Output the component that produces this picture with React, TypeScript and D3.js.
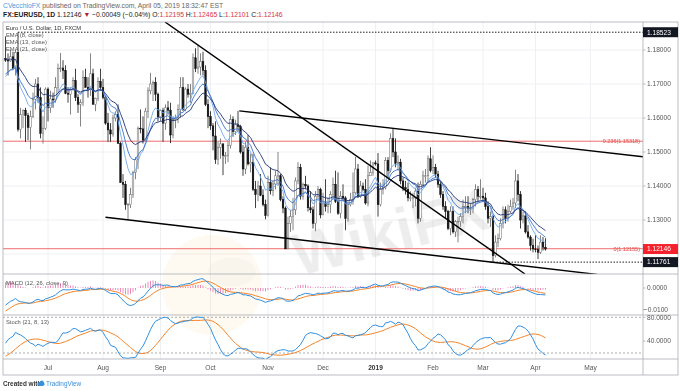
import React from "react";
import * as d3 from "d3";

// Hidden warm-up bars (Apr 9 – Jun 6 2018). They sit left of the visible window
// and only feed the EMA / MACD / Stoch calculations.
const warmHighs = [
  1.2345, 1.2375, 1.2395, 1.2375, 1.2365,
  1.2395, 1.2395, 1.2395, 1.2415, 1.2355,
  1.2285, 1.2255, 1.2240, 1.2200, 1.2145,
  1.2140, 1.2085, 1.2020, 1.2010, 1.2010,
  1.1985, 1.1935, 1.1895, 1.1925, 1.1995,
  1.1995, 1.1935, 1.1845, 1.1830, 1.1810,
  1.1815, 1.1830, 1.1790, 1.1745, 1.1730,
  1.1665, 1.1625, 1.1675, 1.1715, 1.1720,
  1.1745, 1.1725, 1.1800,
];
const warmLows = [
  1.2270, 1.2305, 1.2345, 1.2300, 1.2305,
  1.2320, 1.2355, 1.2355, 1.2335, 1.2265,
  1.2185, 1.2185, 1.2160, 1.2090, 1.2055,
  1.2070, 1.1985, 1.1935, 1.1945, 1.1910,
  1.1910, 1.1840, 1.1820, 1.1840, 1.1915,
  1.1920, 1.1820, 1.1765, 1.1785, 1.1750,
  1.1715, 1.1760, 1.1675, 1.1690, 1.1645,
  1.1605, 1.1510, 1.1535, 1.1655, 1.1620,
  1.1645, 1.1675, 1.1700,
];
const warmCloses = [
  1.2320, 1.2355, 1.2370, 1.2325, 1.2330,
  1.2380, 1.2375, 1.2375, 1.2345, 1.2290,
  1.2210, 1.2235, 1.2165, 1.2100, 1.2130,
  1.2080, 1.1990, 1.1950, 1.1990, 1.1960,
  1.1925, 1.1865, 1.1850, 1.1915, 1.1940,
  1.1925, 1.1835, 1.1805, 1.1795, 1.1770,
  1.1790, 1.1780, 1.1695, 1.1720, 1.1655,
  1.1620, 1.1540, 1.1665, 1.1690, 1.1660,
  1.1695, 1.1720, 1.1775,
];

// EUR/USD daily bars, Jun 7 2018 – Apr 5 2019 (one row per week)
const opens = [
  1.1775, 1.1770,
  1.1768, 1.1780, 1.1745, 1.1793, 1.1567,
  1.1610, 1.1623, 1.1607, 1.1572, 1.1605,
  1.1655, 1.1700, 1.1660, 1.1555, 1.1570,
  1.1685, 1.1630, 1.1656, 1.1653, 1.1689,
  1.1745, 1.1747, 1.1740, 1.1673, 1.1670,
  1.1685, 1.1710, 1.1660, 1.1640, 1.1645,
  1.1720, 1.1690, 1.1683, 1.1730, 1.1640,
  1.1658, 1.1707, 1.1690, 1.1660, 1.1585,
  1.1565, 1.1553, 1.1600, 1.1610, 1.1525,
  1.1410, 1.1405, 1.1345, 1.1345, 1.1375,
  1.1440, 1.1477, 1.1570, 1.1568, 1.1535,
  1.1620, 1.1680, 1.1700, 1.1705, 1.1670,
  1.1603, 1.1622, 1.1585, 1.1630, 1.1623,
  1.1550, 1.1595, 1.1600, 1.1625, 1.1690,
  1.1625, 1.1685, 1.1670, 1.1672, 1.1777,
  1.1745, 1.1750, 1.1766, 1.1740, 1.1640,
  1.1604, 1.1577, 1.1547, 1.1478, 1.1514,
  1.1524, 1.1490, 1.1490, 1.1520, 1.1595,
  1.1560, 1.1580, 1.1575, 1.1500, 1.1450,
  1.1514, 1.1465, 1.1470, 1.1390, 1.1375,
  1.1400, 1.1373, 1.1345, 1.1313, 1.1410,
  1.1386, 1.1406, 1.1430, 1.1430, 1.1360,
  1.1335, 1.1215, 1.1290, 1.1310, 1.1330,
  1.1415, 1.1455, 1.1370, 1.1405, 1.1400,
  1.1336, 1.1330, 1.1290, 1.1370, 1.1390,
  1.1315, 1.1350, 1.1340, 1.1345, 1.1375,
  1.1405, 1.1355, 1.1320, 1.1370, 1.1365,
  1.1305, 1.1345, 1.1360, 1.1380, 1.1450,
  1.1370, 1.1400, 1.1390, 1.1350, 1.1430,
  1.1440, 1.1468, 1.1465, 1.1345, 1.1390,
  1.1395, 1.1475, 1.1445, 1.1540, 1.1500,
  1.1467, 1.1470, 1.1415, 1.1395, 1.1390,
  1.1365, 1.1365, 1.1365, 1.1385, 1.1305,
  1.1405, 1.1430, 1.1430, 1.1480, 1.1445,
  1.1455, 1.1435, 1.1405, 1.1375, 1.1340,
  1.1325, 1.1275, 1.1325, 1.1265, 1.1295,
  1.1295, 1.1310, 1.1340, 1.1340, 1.1335,
  1.1335, 1.1360, 1.1390, 1.1370, 1.1370,
  1.1365, 1.1340, 1.1305, 1.1310, 1.1195,
  1.1235, 1.1245, 1.1290, 1.1330, 1.1305,
  1.1325, 1.1340, 1.1350, 1.1415, 1.1375,
  1.1300, 1.1312, 1.1265, 1.1250, 1.1225,
  1.1215, 1.1213, 1.1205, 1.1235, 1.12195,
];
const highs = [
  1.1840, 1.1790,
  1.1800, 1.1795, 1.1800, 1.1852, 1.1630,
  1.1625, 1.1630, 1.1615, 1.1622, 1.1675,
  1.1715, 1.1720, 1.1690, 1.1605, 1.1690,
  1.1690, 1.1680, 1.1675, 1.1720, 1.1760,
  1.1791, 1.1770, 1.1755, 1.1690, 1.1690,
  1.1720, 1.1745, 1.1670, 1.1655, 1.1740,
  1.1745, 1.1720, 1.1790, 1.1745, 1.1660,
  1.1720, 1.1745, 1.1715, 1.1665, 1.1615,
  1.1585, 1.1610, 1.1620, 1.1640, 1.1530,
  1.1435, 1.1415, 1.1350, 1.1395, 1.1445,
  1.1485, 1.1575, 1.1625, 1.1605, 1.1630,
  1.1690, 1.1733, 1.1710, 1.1720, 1.1675,
  1.1625, 1.1630, 1.1640, 1.1650, 1.1645,
  1.1605, 1.1610, 1.1640, 1.1720, 1.1720,
  1.1690, 1.1700, 1.1700, 1.1790, 1.1805,
  1.1815, 1.1790, 1.1795, 1.1755, 1.1655,
  1.1620, 1.1585, 1.1590, 1.1530, 1.1540,
  1.1525, 1.1500, 1.1530, 1.1610, 1.1605,
  1.1595, 1.1621, 1.1580, 1.1520, 1.1530,
  1.1550, 1.1495, 1.1495, 1.1415, 1.1415,
  1.1435, 1.1390, 1.1360, 1.1430, 1.1455,
  1.1415, 1.1445, 1.1500, 1.1435, 1.1370,
  1.1340, 1.1310, 1.1330, 1.1365, 1.1425,
  1.1470, 1.1465, 1.1410, 1.1430, 1.1405,
  1.1385, 1.1340, 1.1385, 1.1400, 1.1395,
  1.1380, 1.1420, 1.1365, 1.1385, 1.1425,
  1.1445, 1.1440, 1.1385, 1.1405, 1.1370,
  1.1355, 1.1380, 1.1440, 1.1486, 1.1465,
  1.1415, 1.1410, 1.1420, 1.1460, 1.1475,
  1.1470, 1.1475, 1.1497, 1.1410, 1.1420,
  1.1485, 1.1485, 1.1555, 1.1570, 1.1540,
  1.1490, 1.1480, 1.1425, 1.1415, 1.1410,
  1.1385, 1.1380, 1.1395, 1.1410, 1.1415,
  1.1445, 1.1450, 1.1490, 1.1514, 1.1490,
  1.1465, 1.1445, 1.1415, 1.1385, 1.1355,
  1.1330, 1.1340, 1.1340, 1.1300, 1.1310,
  1.1320, 1.1360, 1.1370, 1.1370, 1.1350,
  1.1365, 1.1405, 1.1400, 1.1420, 1.1395,
  1.1380, 1.1355, 1.1325, 1.1315, 1.1255,
  1.1260, 1.1305, 1.1340, 1.1340, 1.1345,
  1.1360, 1.1365, 1.1448, 1.1435, 1.1385,
  1.1325, 1.1325, 1.1285, 1.1255, 1.1245,
  1.1255, 1.1225, 1.1255, 1.1250, 1.12465,
];
const lows = [
  1.1765, 1.1725,
  1.1765, 1.1745, 1.1725, 1.1560, 1.1540,
  1.1570, 1.1530, 1.1535, 1.1508, 1.1600,
  1.1625, 1.1645, 1.1540, 1.1525, 1.1565,
  1.1590, 1.1615, 1.1630, 1.1645, 1.1675,
  1.1735, 1.1715, 1.1670, 1.1645, 1.1610,
  1.1680, 1.1650, 1.1615, 1.1575, 1.1635,
  1.1690, 1.1660, 1.1665, 1.1640, 1.1620,
  1.1650, 1.1680, 1.1655, 1.1580, 1.1530,
  1.1530, 1.1545, 1.1590, 1.1525, 1.1410,
  1.1365, 1.1330, 1.1301, 1.1335, 1.1365,
  1.1420, 1.1450, 1.1555, 1.1525, 1.1530,
  1.1600, 1.1670, 1.1650, 1.1650, 1.1590,
  1.1590, 1.1530, 1.1565, 1.1610, 1.1526,
  1.1540, 1.1570, 1.1585, 1.1600, 1.1620,
  1.1620, 1.1660, 1.1645, 1.1670, 1.1735,
  1.1730, 1.1725, 1.1725, 1.1635, 1.1570,
  1.1565, 1.1505, 1.1465, 1.1462, 1.1480,
  1.1432, 1.1465, 1.1470, 1.1510, 1.1545,
  1.1550, 1.1560, 1.1495, 1.1430, 1.1435,
  1.1460, 1.1440, 1.1385, 1.1335, 1.1355,
  1.1370, 1.1340, 1.1302, 1.1310, 1.1375,
  1.1370, 1.1390, 1.1400, 1.1355, 1.1320,
  1.1215, 1.1215, 1.1265, 1.1270, 1.1315,
  1.1405, 1.1360, 1.1360, 1.1390, 1.1325,
  1.1320, 1.1275, 1.1267, 1.1365, 1.1305,
  1.1315, 1.1325, 1.1320, 1.1320, 1.1365,
  1.1350, 1.1315, 1.1305, 1.1355, 1.1270,
  1.1295, 1.1340, 1.1345, 1.1375, 1.1365,
  1.1365, 1.1385, 1.1345, 1.1340, 1.1430,
  1.1430, 1.1460, 1.1310, 1.1340, 1.1375,
  1.1390, 1.1425, 1.1440, 1.1485, 1.1455,
  1.1445, 1.1405, 1.1385, 1.1375, 1.1355,
  1.1355, 1.1335, 1.1340, 1.1290, 1.1295,
  1.1395, 1.1410, 1.1415, 1.1440, 1.1435,
  1.1425, 1.1395, 1.1365, 1.1330, 1.1305,
  1.1270, 1.1255, 1.1260, 1.1250, 1.1234,
  1.1280, 1.1290, 1.1320, 1.1320, 1.1315,
  1.1320, 1.1340, 1.1355, 1.1360, 1.1355,
  1.1330, 1.1290, 1.1280, 1.1176, 1.1190,
  1.1220, 1.1240, 1.1275, 1.1290, 1.1295,
  1.1320, 1.1330, 1.1335, 1.1355, 1.1275,
  1.1290, 1.1260, 1.1245, 1.1210, 1.1205,
  1.1205, 1.1185, 1.1200, 1.1210, 1.12101,
];
const closes = [
  1.1770, 1.1768,
  1.1780, 1.1745, 1.1793, 1.1567, 1.1610,
  1.1623, 1.1607, 1.1572, 1.1605, 1.1655,
  1.1700, 1.1660, 1.1555, 1.1570, 1.1685,
  1.1630, 1.1656, 1.1653, 1.1689, 1.1745,
  1.1747, 1.1740, 1.1673, 1.1670, 1.1685,
  1.1710, 1.1660, 1.1640, 1.1645, 1.1720,
  1.1690, 1.1683, 1.1730, 1.1640, 1.1658,
  1.1707, 1.1690, 1.1660, 1.1585, 1.1565,
  1.1553, 1.1600, 1.1610, 1.1525, 1.1410,
  1.1405, 1.1345, 1.1345, 1.1375, 1.1440,
  1.1477, 1.1570, 1.1568, 1.1535, 1.1620,
  1.1680, 1.1700, 1.1705, 1.1670, 1.1603,
  1.1622, 1.1585, 1.1630, 1.1623, 1.1550,
  1.1595, 1.1600, 1.1625, 1.1690, 1.1625,
  1.1685, 1.1670, 1.1672, 1.1777, 1.1745,
  1.1750, 1.1766, 1.1740, 1.1640, 1.1604,
  1.1577, 1.1547, 1.1478, 1.1514, 1.1524,
  1.1490, 1.1490, 1.1520, 1.1595, 1.1560,
  1.1580, 1.1575, 1.1500, 1.1450, 1.1514,
  1.1465, 1.1470, 1.1390, 1.1375, 1.1400,
  1.1373, 1.1345, 1.1313, 1.1410, 1.1386,
  1.1406, 1.1430, 1.1430, 1.1360, 1.1335,
  1.1215, 1.1290, 1.1310, 1.1330, 1.1415,
  1.1455, 1.1370, 1.1405, 1.1400, 1.1336,
  1.1330, 1.1290, 1.1370, 1.1390, 1.1315,
  1.1350, 1.1340, 1.1345, 1.1375, 1.1405,
  1.1355, 1.1320, 1.1370, 1.1365, 1.1305,
  1.1345, 1.1360, 1.1380, 1.1450, 1.1370,
  1.1400, 1.1390, 1.1350, 1.1430, 1.1440,
  1.1468, 1.1465, 1.1345, 1.1390, 1.1395,
  1.1475, 1.1445, 1.1540, 1.1500, 1.1467,
  1.1470, 1.1415, 1.1395, 1.1390, 1.1365,
  1.1365, 1.1365, 1.1385, 1.1305, 1.1405,
  1.1430, 1.1430, 1.1480, 1.1445, 1.1455,
  1.1435, 1.1405, 1.1375, 1.1340, 1.1325,
  1.1275, 1.1325, 1.1265, 1.1295, 1.1295,
  1.1310, 1.1340, 1.1340, 1.1335, 1.1335,
  1.1360, 1.1390, 1.1370, 1.1370, 1.1365,
  1.1340, 1.1305, 1.1310, 1.1195, 1.1235,
  1.1245, 1.1290, 1.1330, 1.1305, 1.1325,
  1.1340, 1.1350, 1.1415, 1.1375, 1.1300,
  1.1312, 1.1265, 1.1250, 1.1225, 1.1215,
  1.1213, 1.1205, 1.1235, 1.1220, 1.12146,
];

const monthNames = ["Jan", "Feb", "Mar", "Apr", "May", "Jun", "Jul", "Aug", "Sep", "Oct", "Nov", "Dec"];
const priceTicks = [1.18, 1.17, 1.16, 1.15, 1.14, 1.13];
const priceGrid = [1.18, 1.17, 1.16, 1.15, 1.14, 1.13, 1.12];
const macdTicks = [0, -0.01];
const stochTicks = [80, 40];
const stochBands = [80, 20];

const emaLengths = [8, 13, 21];
const emaColors = ["#6ea9ec", "#3e72c8", "#21367a"];

// drawings (bar index, price)
const fibLevels = [
  { price: 1.15318, label: "0.236(1.15318)" },
  { price: 1.12155, label: "0(1.12155)" },
];
const dottedLevels = [
  { price: 1.18523, from: 5 },
  { price: 1.11761, from: 194 },
];
const trendLines = [
  { i1: 63.8, p1: 1.18824, i2: 207.8, p2: 1.11412 },
  { i1: 93.5, p1: 1.1621, i2: 255, p2: 1.1486 },
  { i1: 40, p1: 1.1308, i2: 236.6, p2: 1.114 },
];
const priceBoxes = [
  { price: 1.18523, label: "1.18523", fill: "#131722" },
  { price: 1.12146, label: "1.12146", fill: "#f5222d" },
  { price: 1.11761, label: "1.11761", fill: "#131722" },
];

const FONT = "'Liberation Sans', Arial, sans-serif";

// layout
const W = 680;
const H = 391;
const plotL = 3;
const plotR = 643;
const axisR = 678;
const mainTop = 22;
const mainBot = 274;
const macdBot = 315;
const stochBot = 359;
const frameBot = 375;

function ema(src: number[], n: number) {
  const a = 2 / (n + 1);
  const out: number[] = [];
  src.forEach((v, i) => out.push(i === 0 ? v : a * v + (1 - a) * out[i - 1]));
  return out;
}

function sma(src: number[], n: number) {
  return src.map((_, i) => {
    const s = src.slice(Math.max(0, i - n + 1), i + 1);
    return d3.mean(s) as number;
  });
}

const App: React.FC = () => {
  const n = Math.min(opens.length, highs.length, lows.length, closes.length);
  const bars = d3.range(n).map((i) => ({ i, o: opens[i], h: highs[i], l: lows[i], c: closes[i] }));

  // indicators over warm-up + visible bars
  const warmN = warmCloses.length;
  const allC = warmCloses.concat(closes.slice(0, n));
  const allH = warmHighs.concat(highs.slice(0, n));
  const allL = warmLows.concat(lows.slice(0, n));

  const emas = emaLengths.map((len) => ema(allC, len).slice(warmN));
  const e12 = ema(allC, 12);
  const e26 = ema(allC, 26);
  const macdAll = e12.map((v, i) => v - e26[i]);
  const sigAll = ema(macdAll, 9);
  const macd = macdAll.slice(warmN);
  const signal = sigAll.slice(warmN);
  const hist = macd.map((v, i) => v - signal[i]);

  const raw = allC.map((c, i) => {
    const lo = d3.min(allL.slice(Math.max(0, i - 20), i + 1)) as number;
    const hi = d3.max(allH.slice(Math.max(0, i - 20), i + 1)) as number;
    return hi === lo ? 50 : ((c - lo) / (hi - lo)) * 100;
  });
  const kAll = sma(raw, 8);
  const dAll = sma(kAll, 13);
  const stochK = kAll.slice(warmN);
  const stochD = dAll.slice(warmN);

  // scales
  const x = d3.scaleLinear().domain([-1, 255]).range([plotL, plotR]);
  const y = d3.scaleLinear().domain([1.18, 1.13]).range([50, 220]);
  const yMacd = d3.scaleLinear().domain([0, -0.01]).range([288, 309.7]);
  const yStoch = d3.scaleLinear().domain([80, 20]).range([317.3, 353]);

  // month ticks from weekday calendar
  const dates: Date[] = [];
  const d = new Date(2018, 5, 7);
  while (dates.length < 260) {
    if (d.getDay() !== 0 && d.getDay() !== 6) dates.push(new Date(d));
    d.setDate(d.getDate() + 1);
  }
  const monthTicks = dates
    .map((dt, i) => ({ i, dt }))
    .filter(({ i, dt }) => i > 0 && dt.getMonth() !== dates[i - 1].getMonth())
    .filter(({ i }) => x(i) > plotL + 5 && x(i) < plotR - 5)
    .map(({ i, dt }) => ({
      i,
      label: dt.getMonth() === 0 ? String(dt.getFullYear()) : monthNames[dt.getMonth()],
      bold: dt.getMonth() === 0,
    }));

  const seriesLine = (vals: number[], ys: d3.ScaleLinear<number, number>) =>
    d3
      .line<number>()
      .x((_, i) => x(i))
      .y((v) => ys(v))(vals) || "";

  const upCol = "#666666";
  const downCol = "#111111";

  return (
    <svg
      width={W}
      height={H}
      style={{ position: "absolute", left: 0, top: 0, background: "#fff", fontFamily: FONT }}
    >
      <defs>
        <clipPath id="clipMain">
          <rect x={plotL} y={mainTop} width={plotR - plotL} height={mainBot - mainTop} />
        </clipPath>
        <clipPath id="clipMacd">
          <rect x={plotL} y={mainBot} width={plotR - plotL} height={macdBot - mainBot} />
        </clipPath>
        <clipPath id="clipStoch">
          <rect x={plotL} y={macdBot} width={plotR - plotL} height={stochBot - macdBot} />
        </clipPath>
      </defs>

      <rect x={0} y={0} width={W} height={H} fill="#fff" />

      {/* header */}
      <text x={3} y={8} fontSize={6.8} fill="#666">
        <tspan fill="#4a98e0">CVecchioFX</tspan>
        <tspan> published on TradingView.com, April 05, 2019 18:32:47 EST</tspan>
      </text>
      <text x={3} y={16.5} fontSize={6.8} fill="#222">
        <tspan fontWeight="bold">FX:EURUSD, 1D</tspan>
        <tspan> 1.12146 </tspan>
        <tspan fill="#b01c2e">▼</tspan>
        <tspan> −0.00049 (−0.04%) O:</tspan>
        <tspan fill="#d9323f">1.12195</tspan>
        <tspan> H:</tspan>
        <tspan fill="#d9323f">1.12465</tspan>
        <tspan> L:</tspan>
        <tspan fill="#d9323f">1.12101</tspan>
        <tspan> C:</tspan>
        <tspan fill="#d9323f">1.12146</tspan>
      </text>

      {/* grid */}
      <g stroke="#eef0f3" strokeWidth={1}>
        {priceGrid.map((p) => (
          <line key={p} x1={plotL} x2={plotR} y1={y(p)} y2={y(p)} />
        ))}
        {monthTicks.map((t) => (
          <line key={t.i} x1={x(t.i)} x2={x(t.i)} y1={mainTop} y2={stochBot} />
        ))}
      </g>

      {/* watermark */}
      <g opacity={0.5}>
        <circle cx={212} cy={285} r={50} fill="#f6c14a" opacity={0.16} />
        <ellipse cx={232} cy={272} rx={24} ry={14} fill="#9a9a9a" opacity={0.12} />
        <text
          transform="translate(395,252) rotate(-14)"
          textAnchor="middle"
          fontSize={60}
          fontWeight="bold"
          fill="#a8a8a8"
          opacity={0.4}
        >
          WikiFX
        </text>
      </g>

      {/* main pane */}
      <g clipPath="url(#clipMain)">
        {fibLevels.map((f) => (
          <line key={f.price} x1={plotL} x2={plotR} y1={y(f.price)} y2={y(f.price)} stroke="#f06c6c" strokeWidth={1} />
        ))}
        {dottedLevels.map((lv) => (
          <line
            key={lv.price}
            x1={x(lv.from)}
            x2={plotR}
            y1={y(lv.price)}
            y2={y(lv.price)}
            stroke="#222"
            strokeWidth={1}
            strokeDasharray="1.5,1.5"
          />
        ))}

        {bars.map((b) => {
          const up = b.c >= b.o;
          const col = up ? upCol : downCol;
          const top = y(Math.max(b.o, b.c));
          const bh = Math.max(0.8, y(Math.min(b.o, b.c)) - top);
          return (
            <g key={b.i}>
              <line x1={x(b.i)} x2={x(b.i)} y1={y(b.h)} y2={y(b.l)} stroke={col} strokeWidth={0.8} />
              <rect
                x={x(b.i) - 0.8}
                y={top}
                width={1.6}
                height={bh}
                fill={up ? "#ffffff" : downCol}
                stroke={col}
                strokeWidth={0.5}
              />
            </g>
          );
        })}

        {emas.map((vals, k) => (
          <path
            key={k}
            d={seriesLine(vals, y)}
            fill="none"
            stroke={emaColors[k]}
            strokeWidth={0.9}
          />
        ))}

        {trendLines.map((t, k) => (
          <line key={k} x1={x(t.i1)} y1={y(t.p1)} x2={x(t.i2)} y2={y(t.p2)} stroke="#000" strokeWidth={1.4} />
        ))}

        {fibLevels.map((f) => (
          <text key={f.label} x={plotR - 3} y={y(f.price) + 2} fontSize={5.5} fill="#e24a4a" textAnchor="end">
            {f.label}
          </text>
        ))}
      </g>

      {/* main legend */}
      <g fontSize={5.8} fill="#555">
        <text x={6} y={29.5} fill="#333">Euro / U.S. Dollar, 1D, FXCM</text>
        {emaLengths.map((len, k) => (
          <text key={len} x={6} y={36.5 + k * 7.3}>{`EMA (${len}, close)`}</text>
        ))}
      </g>

      {/* MACD pane */}
      <g clipPath="url(#clipMacd)">
        {hist.map((v, i) => (
          <line
            key={i}
            x1={x(i)}
            x2={x(i)}
            y1={yMacd(0)}
            y2={yMacd(v)}
            stroke="#e0559a"
            strokeOpacity={0.75}
            strokeWidth={0.9}
          />
        ))}
        <path d={seriesLine(signal, yMacd)} fill="none" stroke="#f3842b" strokeWidth={1} />
        <path d={seriesLine(macd, yMacd)} fill="none" stroke="#2f8fe0" strokeWidth={1} />
      </g>
      <text x={6} y={285} fontSize={5.8} fill="#555">MACD (12, 26, close, 9)</text>

      {/* Stoch pane */}
      <g clipPath="url(#clipStoch)">
        {stochBands.map((v) => (
          <line key={v} x1={plotL} x2={plotR} y1={yStoch(v)} y2={yStoch(v)} stroke="#9a9a9a" strokeWidth={0.8} strokeDasharray="2,2" />
        ))}
        <path d={seriesLine(stochD, yStoch)} fill="none" stroke="#f3842b" strokeWidth={1} />
        <path d={seriesLine(stochK, yStoch)} fill="none" stroke="#2f8fe0" strokeWidth={1} />
      </g>
      <text x={6} y={323.5} fontSize={5.8} fill="#555">Stoch (21, 8, 13)</text>

      {/* frames and separators */}
      <g stroke="#a9acb3" strokeWidth={0.8} fill="none">
        <rect x={plotL} y={mainTop} width={axisR - plotL} height={frameBot - mainTop} />
        <line x1={plotR} x2={plotR} y1={mainTop} y2={frameBot} />
        <line x1={plotL} x2={axisR} y1={mainBot} y2={mainBot} />
        <line x1={plotL} x2={axisR} y1={macdBot} y2={macdBot} />
        <line x1={plotL} x2={axisR} y1={stochBot} y2={stochBot} />
      </g>

      {/* price axis */}
      <g fontSize={6.6} fill="#555">
        {priceTicks.map((p) => (
          <g key={p}>
            <line x1={plotR} x2={plotR + 2.5} y1={y(p)} y2={y(p)} stroke="#a9acb3" strokeWidth={0.8} />
            <text x={647} y={y(p) + 2.3}>{p.toFixed(5)}</text>
          </g>
        ))}
        {priceBoxes.map((b) => (
          <g key={b.label}>
            <rect x={plotR} y={y(b.price) - 5} width={axisR - plotR} height={10} fill={b.fill} />
            <text x={647} y={y(b.price) + 2.3} fill="#fff">{b.label}</text>
          </g>
        ))}
        {macdTicks.map((v) => (
          <g key={v}>
            <line x1={plotR} x2={plotR + 2.5} y1={yMacd(v)} y2={yMacd(v)} stroke="#a9acb3" strokeWidth={0.8} />
            <text x={v < 0 ? 644 : 647} y={yMacd(v) + 2.3}>{v < 0 ? "−" + Math.abs(v).toFixed(4) : v.toFixed(4)}</text>
          </g>
        ))}
        {stochTicks.map((v) => (
          <g key={v}>
            <line x1={plotR} x2={plotR + 2.5} y1={yStoch(v)} y2={yStoch(v)} stroke="#a9acb3" strokeWidth={0.8} />
            <text x={647} y={yStoch(v) + 2.3}>{v.toFixed(4)}</text>
          </g>
        ))}
      </g>

      {/* time axis */}
      <g fontSize={6.6} fill="#555" textAnchor="middle">
        {monthTicks.map((t) => (
          <text key={t.i} x={x(t.i)} y={370} fontWeight={t.bold ? "bold" : "normal"} fill={t.bold ? "#333" : "#555"}>
            {t.label}
          </text>
        ))}
      </g>

      {/* footer */}
      <text x={3} y={386} fontSize={6.4} fontWeight="bold" fill="#333">Created with</text>
      <g fill="#3a8fd9">
        <ellipse cx={41} cy={384} rx={3.6} ry={2} />
        <circle cx={41.8} cy={382.6} r={2} />
      </g>
      <text x={46} y={386} fontSize={6.4} fill="#3a8fd9">TradingView</text>
    </svg>
  );
};

export default App;
